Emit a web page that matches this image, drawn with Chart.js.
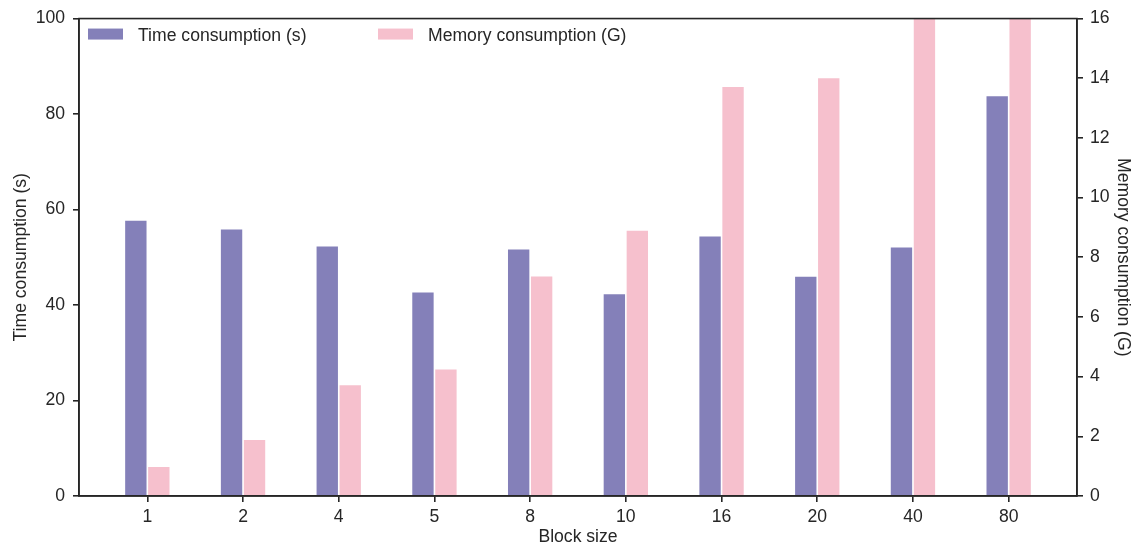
<!DOCTYPE html>
<html>
<head>
<meta charset="utf-8">
<script src="https://cdn.jsdelivr.net/npm/chart.js@4/dist/chart.umd.min.js"></script>
<style>
  html, body { margin: 0; padding: 0; background: #fff; }
  #wrap { width: 1133px; height: 544px; }
</style>
</head>
<body>
<div id="wrap"><canvas id="blockChart"></canvas></div>
<script>
// данные
const blockSizes = ['1', '2', '4', '5', '8', '10', '16', '20', '40', '80'];
const timeValues = [57.8, 56.0, 52.4, 42.8, 51.8, 42.4, 54.5, 46.1, 52.2, 83.9];
const memoryValues = [1.0, 1.9, 3.74, 4.27, 7.38, 8.92, 13.73, 14.03, 17.5, 19.0];
const timeTicks = [0, 20, 40, 60, 80, 100];
const memoryTicks = [0, 2, 4, 6, 8, 10, 12, 14, 16];

const timeColor = 'rgb(132, 128, 185)';
const memoryColor = 'rgb(246, 192, 205)';
const ink = '#262626';
const fontFamily = '"Liberation Sans", Arial, sans-serif';
const fontSize = 17.6;

Chart.defaults.font.family = fontFamily;
Chart.defaults.font.size = fontSize;
Chart.defaults.color = ink;

// рамка поверх столбцов + легенда внутри области графика
const framePlugin = {
  id: 'frameAndLegend',
  afterDatasetsDraw(chart) {
    const { ctx, chartArea: a } = chart;
    ctx.save();
    ctx.strokeStyle = ink;
    ctx.lineWidth = 1.6;
    ctx.strokeRect(a.left, a.top, a.right - a.left, a.bottom - a.top);

    const items = [
      { text: 'Time consumption (s)', color: timeColor, dx: 9 },
      { text: 'Memory consumption (G)', color: memoryColor, dx: 299 }
    ];
    ctx.font = fontSize + 'px ' + fontFamily;
    ctx.textBaseline = 'middle';
    items.forEach(it => {
      ctx.fillStyle = it.color;
      ctx.fillRect(a.left + it.dx, a.top + 10, 35, 11);
      ctx.fillStyle = ink;
      ctx.fillText(it.text, a.left + it.dx + 50, a.top + 17.5);
    });
    ctx.restore();
  }
};

const axisGrid = {
  drawOnChartArea: false,
  drawTicks: true,
  tickLength: 6,
  color: ink,
  lineWidth: 1.6
};

new Chart(document.getElementById('blockChart').getContext('2d'), {
  type: 'bar',
  data: {
    datasets: [
      {
        label: 'Time consumption (s)',
        data: blockSizes.map((_, i) => ({ x: i, y: timeValues[i] })),
        backgroundColor: timeColor,
        borderColor: '#ffffff',
        borderWidth: 0.8,
        yAxisID: 'y'
      },
      {
        label: 'Memory consumption (G)',
        data: blockSizes.map((_, i) => ({ x: i, y: memoryValues[i] })),
        backgroundColor: memoryColor,
        borderColor: '#ffffff',
        borderWidth: 0.8,
        yAxisID: 'y1',
        clip: 0
      }
    ]
  },
  options: {
    responsive: true,
    maintainAspectRatio: false,
    animation: false,
    categoryPercentage: 0.48,
    barPercentage: 1,
    layout: { padding: { top: 17, left: 0, right: 0, bottom: 0 } },
    plugins: {
      legend: { display: false },
      tooltip: { enabled: false }
    },
    scales: {
      x: {
        type: 'linear',
        min: -0.714,
        max: 9.714,
        offset: false,
        grid: { ...axisGrid, offset: false },
        border: { display: true, color: ink, width: 1.6 },
        afterBuildTicks: function (scale) {
          scale.ticks = blockSizes.map((_, i) => ({ value: i }));
        },
        afterFit: function (scale) { scale.height = 48; },
        ticks: {
          padding: 5,
          maxRotation: 0,
          autoSkip: false,
          callback: function (value) {
            return blockSizes[value];
          }
        },
        title: { display: true, text: 'Block size', padding: { top: 0, bottom: -4 } }
      },
      y: {
        position: 'left',
        min: 0,
        max: 100,
        grid: axisGrid,
        border: { display: true, color: ink, width: 1.6 },
        afterBuildTicks: function (scale) {
          scale.ticks = timeTicks.map(v => ({ value: v }));
        },
        afterFit: function (scale) { scale.width = 79; },
        ticks: { padding: 8 },
        title: { display: true, text: 'Time consumption (s)', padding: { top: 11, bottom: 0 } }
      },
      y1: {
        position: 'right',
        min: 0,
        max: 16,
        grid: axisGrid,
        border: { display: true, color: ink, width: 1.6 },
        afterBuildTicks: function (scale) {
          scale.ticks = memoryTicks.map(v => ({ value: v }));
        },
        afterFit: function (scale) { scale.width = 56; },
        ticks: { padding: 7 },
        title: { display: true, text: 'Memory consumption (G)', padding: { top: 0, bottom: 0 } }
      }
    }
  },
  plugins: [framePlugin]
});
</script>
</body>
</html>
